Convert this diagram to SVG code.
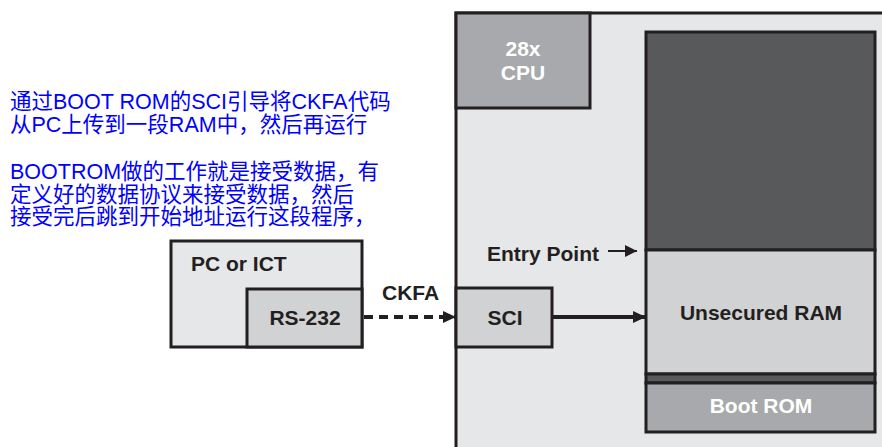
<svg xmlns="http://www.w3.org/2000/svg" width="882" height="447" viewBox="0 0 882 447">
<defs>
<style>
.lbl{font-family:"Liberation Sans",Arial,sans-serif;font-weight:bold;font-size:21px;fill:#231f20}
.wl{font-family:"Liberation Sans",Arial,sans-serif;font-weight:bold;font-size:21px;fill:#ffffff}
.note{font-family:"Liberation Sans","Noto Sans CJK SC",sans-serif;font-size:21.5px;fill:#0000ff}
.box{stroke:#231f20;stroke-width:3}
</style>
<marker id="ah" viewBox="0 0 13 12" refX="13" refY="6" markerWidth="13" markerHeight="12" markerUnits="userSpaceOnUse" orient="auto"><path d="M0,0 L13,6 L0,12 z" fill="#231f20"/></marker>
<marker id="ah2" viewBox="0 0 12 12" refX="12" refY="6" markerWidth="12" markerHeight="12" markerUnits="userSpaceOnUse" orient="auto"><path d="M0,0 L12,6 L0,12 z" fill="#231f20"/></marker>
</defs>
<rect width="882" height="447" fill="#ffffff"/>
<g id="notes">
<text class="note" x="10" y="109">通过BOOT ROM的SCI引导将CKFA代码</text>
<text class="note" x="10" y="132">从PC上传到一段RAM中，然后再运行</text>
<text class="note" x="10" y="179">BOOTROM做的工作就是接受数据，有</text>
<text class="note" x="10" y="202">定义好的数据协议来接受数据，然后</text>
<text class="note" x="10" y="224">接受完后跳到开始地址运行这段程序，</text>
</g>
<g id="chip">
<rect x="456" y="13" width="428" height="436" fill="#e6e7e8"/>
<path d="M456,449 L456,13 L884,13" fill="none" class="box"/>
</g>
<g id="cpu">
<rect x="456" y="13" width="134" height="95" fill="#a7a9ac" class="box"/>
<text class="wl" x="523" y="56" text-anchor="middle">28x</text>
<text class="wl" x="523" y="80" text-anchor="middle">CPU</text>
</g>
<g id="memory">
<rect x="646" y="32" width="229" height="218" fill="#58595b" class="box"/>
<rect x="646" y="250" width="229" height="124" fill="#d1d2d4" class="box"/>
<rect x="646" y="374" width="229" height="9" fill="#58595b" class="box"/>
<rect x="646" y="383" width="229" height="49" fill="#a7a9ac" class="box"/>
<text class="lbl" x="761" y="320" text-anchor="middle">Unsecured RAM</text>
<text class="wl" x="761" y="413" text-anchor="middle">Boot ROM</text>
</g>
<g id="entry">
<text class="lbl" x="487" y="261">Entry Point</text>
</g>
<g id="sci">
<rect x="456" y="288" width="96" height="59" fill="#d1d2d4" class="box"/>
<text class="lbl" x="505" y="325" text-anchor="middle">SCI</text>
</g>
<g id="pc">
<rect x="171" y="241" width="191" height="106" fill="#e6e7e8" class="box"/>
<text class="lbl" x="191" y="271">PC or ICT</text>
</g>
<g id="rs232">
<rect x="247" y="289" width="115" height="58" fill="#d1d2d4" class="box"/>
<text class="lbl" x="305" y="325" text-anchor="middle">RS-232</text>
</g>
<g id="connectors">
<line x1="608" y1="251" x2="637" y2="251" stroke="#231f20" stroke-width="2" marker-end="url(#ah2)"/>
<line x1="552" y1="317" x2="646" y2="317" stroke="#231f20" stroke-width="4" marker-end="url(#ah)"/>
<line x1="364" y1="317" x2="456" y2="317" stroke="#231f20" stroke-width="4" stroke-dasharray="9,6" marker-end="url(#ah)"/>
<text class="lbl" x="382" y="300">CKFA</text>
</g>
</svg>
